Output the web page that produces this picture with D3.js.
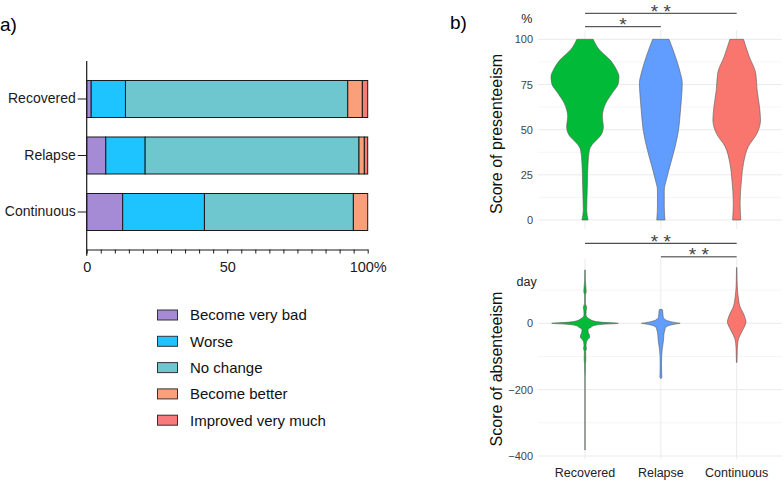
<!DOCTYPE html>
<html>
<head>
<meta charset="utf-8">
<script src="https://cdn.jsdelivr.net/npm/d3@7"></script>
<style>
  body { margin: 0; background: #fff; }
  svg { display: block; font-family: "Liberation Sans", Arial, sans-serif; }
</style>
</head>
<body>
<svg id="chart" width="784" height="481"></svg>
<script>
// groups and answer categories
let groups = ["Recovered", "Relapse", "Continuous"];
let answers = ["Become very bad", "Worse", "No change", "Become better", "Improved very much"];
let answerColors = ["#a58bd5", "#1ec4ff", "#6ec6ce", "#f9a07a", "#f87a7a"];

// percent of each answer per group (same order as answers)
let pctRecovered = [1.6, 12.2, 79.1, 5.2, 1.9];
let pctRelapse = [6.8, 14.0, 76.1, 1.9, 1.2];
let pctContinuous = [12.8, 29.1, 53.0, 5.1, 0];

// violin densities: [score, relative density]
let presRecovered = [[100,.24],[94.5,.41],[88.5,.74],[83,.93],[79.4,1],[75.6,.98],[70,.79],[64.6,.61],[57.2,.51],[51.6,.54],[47,.47],[44.3,.34],[41.5,.2],[38.7,.13],[31.4,.09],[20,.07],[12.9,.06],[5.5,.05],[0,.09]];
let presRelapse = [[100,.24],[90.4,.43],[83,.55],[75.6,.63],[68.2,.61],[59,.57],[49.8,.52],[40.6,.42],[31.4,.29],[22.1,.16],[16.6,.1],[8,.1],[0,.12]];
let presContinuous = [[100,.2],[90.4,.37],[81.2,.56],[72,.6],[62.7,.67],[55.3,.7],[48,.6],[40.6,.34],[31.4,.2],[22.1,.14],[9.2,.1],[0,.12]];

let absRecovered = [[161,.006],[130,.01],[95,.036],[85,.01],[60,.01],[48,.051],[40,.036],[25,.03],[12,.15],[6,.3],[3,.54],[0,1],[-3,.54],[-6,.3],[-12,.18],[-20,.09],[-28,.1],[-35,.13],[-42,.14],[-50,.07],[-58,.04],[-68,.03],[-75,.045],[-85,.02],[-110,.025],[-125,.012],[-140,.012],[-160,.004],[-250,.003],[-382,.003]];
let absRelapse = [[42,.03],[40,.05],[30,.06],[20,.07],[10,.15],[5,.3],[2,.45],[0,.58],[-2,.45],[-5,.3],[-12,.15],[-20,.12],[-35,.09],[-50,.08],[-65,.06],[-80,.04],[-100,.024],[-120,.021],[-150,.024],[-160,.03],[-166,.015]];
let absContinuous = [[168,.006],[130,.012],[100,.024],[80,.045],[60,.075],[45,.12],[30,.2],[15,.255],[5,.28],[-5,.255],[-20,.18],[-35,.105],[-45,.06],[-60,.03],[-80,.018],[-100,.012],[-118,.008]];

let violinColors = ["#00ba38", "#619cff", "#f8766d"];

// significance marks
let presTests = [["Recovered", "Continuous", "* *"], ["Recovered", "Relapse", "*"]];
let absTests = [["Recovered", "Continuous", "* *"], ["Relapse", "Continuous", "* *"]];

let svg = d3.select("#chart");

// ---------- a) stacked bars ----------
svg.append("text").attr("x", 0).attr("y", 31).attr("font-size", 19).text("a)");

let rows = groups.map(function(g, i){
    let vals = [pctRecovered, pctRelapse, pctContinuous][i];
    let r = { group: g };
    answers.forEach(function(a, j){ r[a] = vals[j]; });
    return r;
});
let stacked = d3.stack().keys(answers)(rows);

let xBar = d3.scaleLinear().domain([0, 100]).range([86.7, 367.7]);
let yBar = d3.scaleBand().domain(groups).range([61, 250]).paddingInner(0.345).paddingOuter(0.345);
let colorBar = d3.scaleOrdinal().domain(answers).range(answerColors);

let barG = svg.append("g");
barG.selectAll("g").data(stacked).enter().append("g")
    .attr("fill", function(d){ return colorBar(d.key); })
    .selectAll("rect").data(function(d){ return d; }).enter().append("rect")
    .attr("x", function(d){ return xBar(d[0]); })
    .attr("y", function(d){ return yBar(d.data.group); })
    .attr("width", function(d){ return xBar(d[1]) - xBar(d[0]); })
    .attr("height", yBar.bandwidth())
    .attr("stroke", "#1a1a1a")
    .attr("stroke-width", 1);

let yAxisG = svg.append("g").attr("transform", "translate(86.7,0)")
    .call(d3.axisLeft(yBar).tickSize(9).tickPadding(2).tickSizeOuter(0));
yAxisG.select(".domain").remove();
yAxisG.selectAll("text").attr("font-size", 14).attr("fill", "#1a1a1a").attr("font-family", null);
yAxisG.selectAll("line").attr("stroke", "#1a1a1a");
svg.append("line").attr("x1", 86.7).attr("x2", 86.7).attr("y1", 61).attr("y2", 255.7)
    .attr("stroke", "#1a1a1a").attr("stroke-width", 1.2);

let xAxisG = svg.append("g").attr("transform", "translate(0,249.5)")
    .call(d3.axisBottom(xBar).tickValues(d3.range(0, 101, 5)).tickSize(4).tickSizeOuter(0)
        .tickFormat(function(d){ return d === 0 ? "0" : d === 50 ? "50" : d === 100 ? "100%" : ""; }));
xAxisG.select(".domain").attr("stroke", "#1a1a1a").attr("stroke-width", 1.2);
xAxisG.selectAll("line").attr("stroke", "#1a1a1a");
xAxisG.selectAll("text").attr("font-size", 14.5).attr("fill", "#1a1a1a").attr("font-family", null).attr("dy", "1.05em");

// legend
let legend = svg.append("g");
answers.forEach(function(a, i){
    let cy = 315 + i * 26.3;
    legend.append("rect").attr("x", 157.5).attr("y", cy - 5).attr("width", 20).attr("height", 10)
        .attr("fill", colorBar(a)).attr("stroke", "#333").attr("stroke-width", 1);
    legend.append("text").attr("x", 190).attr("y", cy + 5.3).attr("font-size", 15).attr("fill", "#111").text(a);
});

// ---------- b) violins ----------
svg.append("text").attr("x", 450).attr("y", 29).attr("font-size", 19).text("b)");

let xV = d3.scalePoint().domain(groups).range([585, 736.7]);
let panelLeft = 538, panelRight = 782;

function drawPanel(opts){
    let g = svg.append("g");
    let y = opts.y;
    // grid
    g.selectAll(".minor").data(opts.minor).enter().append("line")
        .attr("x1", panelLeft).attr("x2", panelRight)
        .attr("y1", function(d){ return y(d); }).attr("y2", function(d){ return y(d); })
        .attr("stroke", "#f2f2f2").attr("stroke-width", 0.8);
    g.selectAll(".major").data(opts.ticks).enter().append("line")
        .attr("x1", panelLeft).attr("x2", panelRight)
        .attr("y1", function(d){ return y(d); }).attr("y2", function(d){ return y(d); })
        .attr("stroke", "#ebebeb").attr("stroke-width", 1);
    g.selectAll(".vgrid").data(groups).enter().append("line")
        .attr("x1", function(d){ return xV(d); }).attr("x2", function(d){ return xV(d); })
        .attr("y1", y(opts.domain[0])).attr("y2", y(opts.domain[1]))
        .attr("stroke", "#ebebeb").attr("stroke-width", 1);

    let yAx = g.append("g").attr("transform", "translate(" + (panelLeft - 3) + ",0)")
        .call(d3.axisLeft(y).tickValues(opts.ticks).tickSize(0).tickPadding(2));
    yAx.select(".domain").remove();
    yAx.selectAll("text").attr("font-size", 11).attr("fill", "#444").attr("font-family", null);

    let w = d3.scaleLinear().domain([0, 1]).range([0, opts.maxHalf]);
    opts.data.forEach(function(dens, i){
        let cx = xV(groups[i]);
        let area = d3.area().curve(d3.curveMonotoneY)
            .y(function(d){ return y(d[0]); })
            .x0(function(d){ return cx - w(d[1]); })
            .x1(function(d){ return cx + w(d[1]); });
        g.append("path").datum(dens).attr("d", area)
            .attr("fill", violinColors[i]).attr("stroke", "#5a5a5a").attr("stroke-width", 0.6);
    });

    g.append("text").attr("transform", "translate(" + opts.titleX + "," + opts.titleY + ") rotate(-90)")
        .attr("text-anchor", "middle").attr("font-size", 16).attr("fill", "#111").text(opts.title);
    g.append("text").attr("x", 526.7).attr("y", opts.unitY).attr("text-anchor", "middle")
        .attr("font-size", 12.5).attr("fill", "#222").text(opts.unit);

    opts.tests.forEach(function(t, i){
        let ly = opts.bracketY[i];
        g.append("line").attr("x1", xV(t[0])).attr("x2", xV(t[1])).attr("y1", ly).attr("y2", ly)
            .attr("stroke", opts.bracketColor[i]).attr("stroke-width", opts.bracketWidth[i]);
        g.append("text").attr("x", (xV(t[0]) + xV(t[1])) / 2).attr("y", ly + 4.5)
            .attr("text-anchor", "middle").attr("font-size", 19).attr("fill", "#444").text(t[2]);
    });
}

drawPanel({
    y: d3.scaleLinear().domain([0, 100]).range([220, 39.3]),
    domain: [-5, 105],
    ticks: [0, 25, 50, 75, 100],
    minor: [12.5, 37.5, 62.5, 87.5],
    data: [presRecovered, presRelapse, presContinuous],
    maxHalf: 34,
    title: "Score of presenteeism",
    titleX: 502, titleY: 134,
    unit: "%", unitY: 23,
    tests: presTests,
    bracketY: [13.3, 26.7],
    bracketColor: ["#333", "#333"],
    bracketWidth: [1, 1]
});

drawPanel({
    y: d3.scaleLinear().domain([0, -400]).range([323.3, 456]),
    domain: [-409, 195],
    ticks: [0, -200, -400],
    minor: [100, -100, -300],
    data: [absRecovered, absRelapse, absContinuous],
    maxHalf: 33.3,
    title: "Score of absenteeism",
    titleX: 502, titleY: 369,
    unit: "day", unitY: 286,
    tests: absTests,
    bracketY: [243.3, 256.7],
    bracketColor: ["#222", "#777"],
    bracketWidth: [1, 1.6]
});

// x labels under the lower panel
svg.append("g").selectAll("text").data(groups).enter().append("text")
    .attr("x", function(d){ return xV(d); }).attr("y", 477)
    .attr("text-anchor", "middle").attr("font-size", 12.5).attr("fill", "#222")
    .text(function(d){ return d; });
</script>
</body>
</html>
